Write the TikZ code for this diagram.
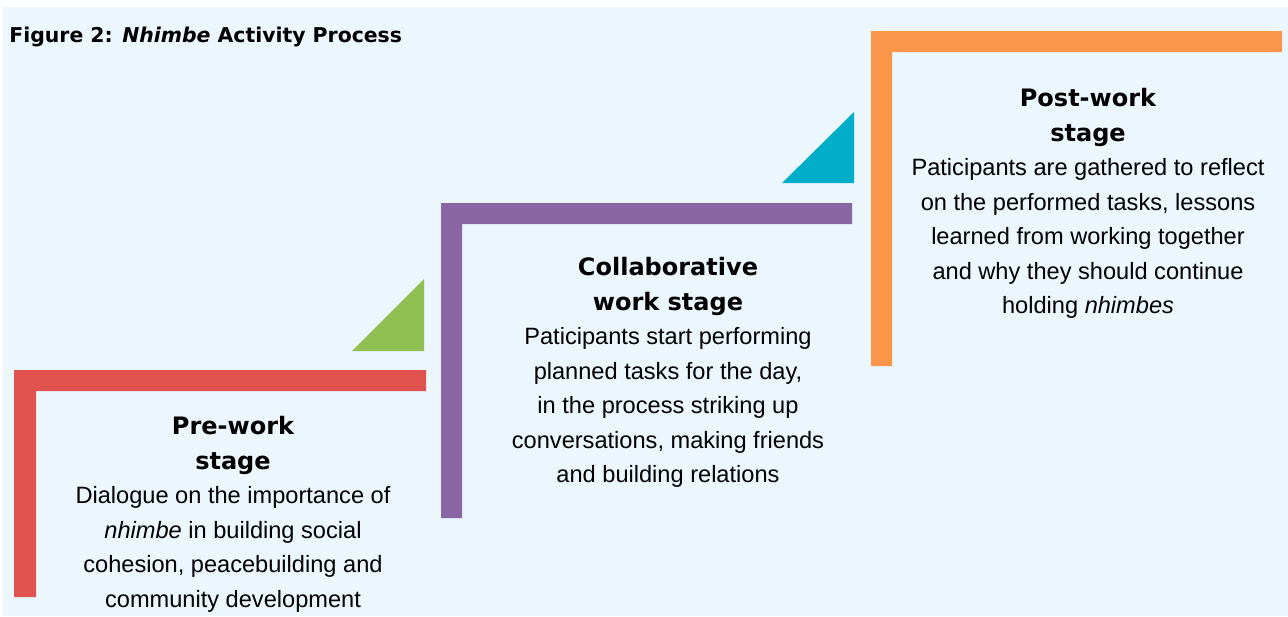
\documentclass[tikz,border=0pt]{standalone}
\usepackage{fontspec}
\setmainfont{Liberation Sans}
\newfontfamily\headfont{DejaVu Sans}
\definecolor{bgblue}{HTML}{EBF6FD}
\definecolor{prered}{HTML}{E0524E}
\definecolor{leafgreen}{HTML}{8FBF50}
\definecolor{workpurple}{HTML}{8A66A5}
\definecolor{tealblue}{HTML}{00AEC9}
\definecolor{postorange}{HTML}{F9964A}
\newcommand\stagehead[1]{{\headfont\fontsize{12}{17.25}\selectfont\bfseries #1}}
\begin{document}
\begin{tikzpicture}[x=0.5pt,y=-0.5pt,
    stagetext/.style={align=center,inner sep=0pt,anchor=north,
      font=\fontsize{11.8}{17.25}\selectfont}]
  \useasboundingbox (0,0) rectangle (1288,616);
  \fill[bgblue] (3,7) rectangle (1288,616);
  % steps
  \fill[prered] (14,597) -- (14,370) -- (426,370) -- (426,391) -- (36,391) -- (36,597) -- cycle;
  \fill[workpurple] (441,518) -- (441,203) -- (852,203) -- (852,224) -- (462,224) -- (462,518) -- cycle;
  \fill[postorange] (871,366) -- (871,31) -- (1282,31) -- (1282,52) -- (892,52) -- (892,366) -- cycle;
  \fill[leafgreen] (352,351) -- (424,279) -- (424,351) -- cycle;
  \fill[tealblue] (782,183) -- (854,112) -- (854,183) -- cycle;
  % texts
  \node[anchor=base west,inner sep=0pt,font=\headfont\fontsize{10.2}{12}\selectfont\bfseries] (title)
    at (9,42) {Figure 2: \textit{Nhimbe} Activity Process};
  \node[stagetext] (pre) at (233,416) {\stagehead{Pre-work}\\ \stagehead{stage}\\
    Dialogue on the importance of\\ \textit{nhimbe} in building social\\
    cohesion, peacebuilding and\\ community development};
  \node[stagetext] (collab) at (668,257) {\stagehead{Collaborative}\\ \stagehead{work stage}\\
    Paticipants start performing\\ planned tasks for the day,\\
    in the process striking up\\ conversations, making friends\\ and building relations};
  \node[stagetext] (post) at (1088,88) {\stagehead{Post-work}\\ \stagehead{stage}\\
    Paticipants are gathered to reflect\\ on the performed tasks, lessons\\
    learned from working together\\ and why they should continue\\ holding \textit{nhimbes}};
\end{tikzpicture}
\end{document}
